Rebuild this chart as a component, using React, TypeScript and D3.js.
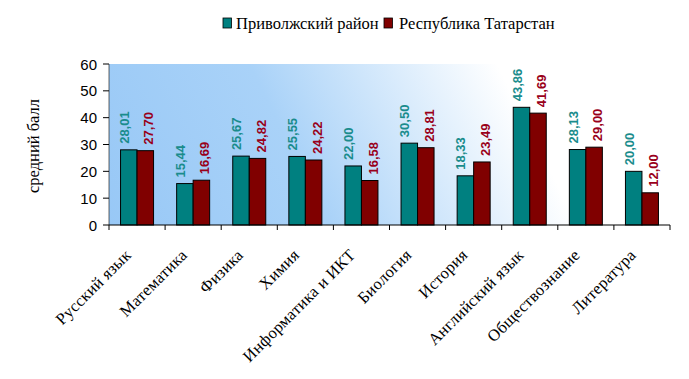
import React from "react";
import * as d3 from "d3";

const categories = ["Русский язык", "Математика", "Физика", "Химия", "Информатика и ИКТ", "Биология", "История", "Английский язык", "Обществознание", "Литература"];
const seriesNames = ["Приволжский район", "Республика Татарстан"];
const privolzhsky = [28.01, 15.44, 25.67, 25.55, 22.0, 30.5, 18.33, 43.86, 28.13, 20.0];
const tatarstan = [27.7, 16.69, 24.82, 24.22, 16.58, 28.81, 23.49, 41.69, 29.0, 12.0];
const yTicks = [0, 10, 20, 30, 40, 50, 60];

const W = 689, H = 379;
const left = 109, right = 670, top = 64, bottom = 225;
const barColors = ["#008080", "#800000"];
const labelColors = ["#1a8c8c", "#99001a"];
const SERIF = "Liberation Serif, Tinos, Times New Roman, DejaVu Serif, serif";
const SANS = "Liberation Sans, Arimo, Arial, sans-serif";

export default function App() {
  const x = d3.scaleBand<string>().domain(categories).range([left, right]).paddingInner(0).paddingOuter(0);
  const y = d3.scaleLinear().domain([0, 60]).range([bottom, top]);
  const bw = x.bandwidth();
  const barW = 16.5;
  const series = [privolzhsky, tatarstan];
  const fmt = (v: number) => v.toFixed(2).replace(".", ",");
  const labelDx = [-5, 3];
  return (
    <svg width={W} height={H} style={{ position: "absolute", left: 0, top: 0 }}>
      <defs>
        <linearGradient id="bg" gradientUnits="userSpaceOnUse" x1={left} y1={bottom} x2={550} y2={top - 60}>
          <stop offset="0" stopColor="#98c8f6" />
          <stop offset="0.4" stopColor="#a9d2f8" />
          <stop offset="0.85" stopColor="#ffffff" />
          <stop offset="1" stopColor="#ffffff" />
        </linearGradient>
      </defs>
      <rect x={0} y={0} width={W} height={H} fill="#fff" />
      <rect x={left} y={top} width={right - left} height={bottom - top} fill="url(#bg)" />
      {/* legend */}
      <g style={{ fontFamily: SERIF }} fontSize={16.5}>
        <rect x={223} y={18} width={8.5} height={10} fill={barColors[0]} stroke="#000" strokeWidth={0.8} />
        <text x={236} y={29} fill="#000">{seriesNames[0]}</text>
        <rect x={384} y={18} width={8.5} height={10} fill={barColors[1]} stroke="#000" strokeWidth={0.8} />
        <text x={399} y={29} fill="#000">{seriesNames[1]}</text>
      </g>
      {/* y axis */}
      <g style={{ fontFamily: SANS }} fontSize={15}>
        {yTicks.map((t) => (
          <g key={t}>
            <line x1={left - 6} x2={left} y1={y(t)} y2={y(t)} stroke="#000" />
            <text x={left - 12} y={y(t) + 5.5} textAnchor="end" fill="#000">{t}</text>
          </g>
        ))}
      </g>
      <line x1={left} x2={left} y1={top} y2={bottom} stroke="#000" strokeWidth={0.6} />
      <text transform={`translate(39,146) rotate(-90)`} textAnchor="middle" style={{ fontFamily: SERIF }} fontSize={16.5}>средний балл</text>
      {/* bars */}
      {categories.map((c, i) => {
        const cx = (x(c) as number) + bw / 2;
        return (
          <g key={c}>
            {series.map((s, k) => {
              const bx = cx - barW + k * barW;
              return (
                <g key={k}>
                  <rect x={bx} y={y(s[i])} width={barW} height={bottom - y(s[i])} fill={barColors[k]} stroke="#000" strokeWidth={1} />
                  <text transform={`translate(${bx + barW / 2 + labelDx[k] + 5},${y(s[i]) - 6}) rotate(-90)`} style={{ fontFamily: SANS }} fontWeight="bold" fontSize={13} fill={labelColors[k]}>{fmt(s[i])}</text>
                </g>
              );
            })}
          </g>
        );
      })}
      {/* x axis */}
      <line x1={left} x2={right} y1={bottom} y2={bottom} stroke="#000" strokeWidth={1.2} />
      {d3.range(categories.length + 1).map((i) => {
        const tx = left + i * bw;
        return <line key={i} x1={tx} x2={tx} y1={bottom} y2={bottom + 5} stroke="#000" />;
      })}
      <g style={{ fontFamily: SERIF, letterSpacing: "0.3px" }} fontSize={16.5}>
        {categories.map((c) => {
          const cx = (x(c) as number) + bw / 2;
          return (
            <text key={c} transform={`translate(${cx - 5},${bottom + 31}) rotate(-45)`} textAnchor="end" fill="#000">{c}</text>
          );
        })}
      </g>
    </svg>
  );
}
